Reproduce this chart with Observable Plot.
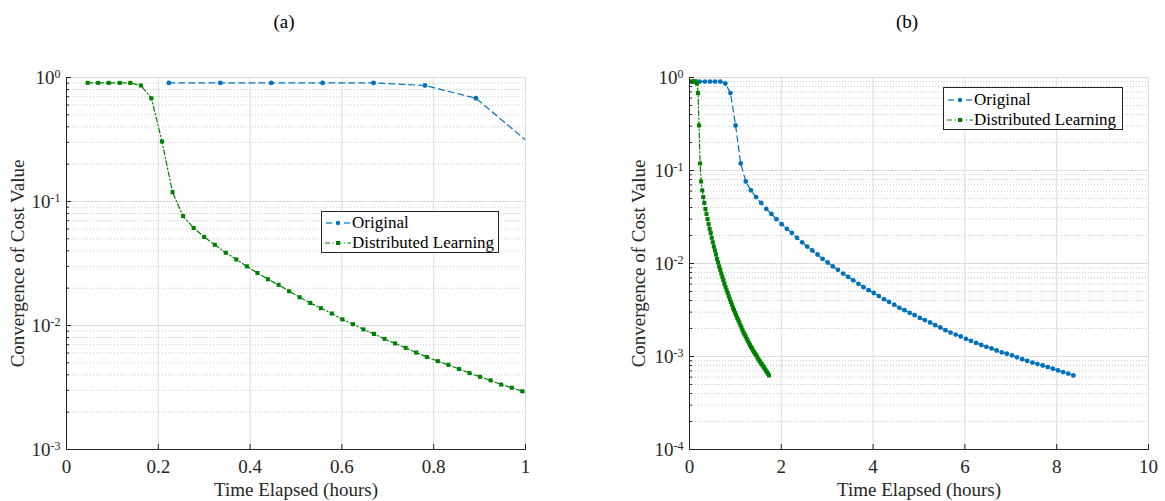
<!DOCTYPE html>
<html><head><meta charset="utf-8">
<script src="https://cdn.jsdelivr.net/npm/d3@7"></script>
<script src="https://cdn.jsdelivr.net/npm/@observablehq/plot@0.6"></script>
<style>
body{margin:0;background:#fff;}
#wrap{position:relative;width:1165px;height:501px;overflow:hidden;font-family:"Liberation Serif","Times New Roman",serif;}
.panel{position:absolute;top:0;}
.legend{position:absolute;background:#fff;border:1px solid #262626;box-sizing:border-box;font-size:17px;color:#000;padding-left:3px;}
.legend .row{display:flex;align-items:center;height:20px;white-space:nowrap;}
.legend svg{flex:none;margin-right:1px;}
</style></head><body><div id="wrap"></div>
<script>
// ---- data ----
// cost value per logged iteration (both methods follow the same cost trajectory)
const costValues = [0.905,0.905,0.905,0.905,0.905,0.862,0.68,0.305,0.119,0.0762,0.0612,0.0518,0.0448,0.0386,0.0341,0.0300,0.0265,0.0236,0.0213,0.0189,0.0169,0.0152,0.0138,0.0125,0.0112,0.01025,0.0093,0.00855,0.0078,0.00717,0.0066,0.00605,0.00557,0.00516,0.00482,0.00446,0.00413,0.00386,0.00361,0.00334,0.00315,0.00295,0.00278,0.0026,0.00246,0.00232,0.00217,0.00205,0.00192,0.00181,0.00172,0.00164,0.00155,0.00147,0.0014,0.00133,0.00127,0.00122,0.00116,0.00111,0.00107,0.00103,0.00098,0.000935,0.000897,0.000861,0.00083,0.0008,0.00077,0.000738,0.000708,0.00068,0.000655,0.000625];
// elapsed time (hours) at each logged point
const timeOriginal = [0.223,0.335,0.446,0.558,0.669,0.781,0.892,1.004,1.115,1.227,1.338,1.450,1.561,1.673,1.784,1.896,2.007,2.119,2.230,2.342,2.453,2.565,2.676,2.788,2.899,3.011,3.122,3.234,3.345,3.457,3.568,3.680,3.791,3.903,4.014,4.126,4.237,4.349,4.460,4.572,4.683,4.795,4.906,5.018,5.129,5.241,5.352,5.464,5.575,5.687,5.798,5.910,6.021,6.133,6.244,6.356,6.467,6.579,6.690,6.802,6.913,7.025,7.136,7.248,7.359,7.471,7.582,7.694,7.805,7.917,8.028,8.140,8.251,8.363];
const timeDistributed = [0.046,0.069,0.092,0.116,0.139,0.162,0.185,0.208,0.231,0.254,0.277,0.300,0.323,0.347,0.370,0.393,0.416,0.439,0.462,0.485,0.508,0.531,0.554,0.578,0.601,0.624,0.647,0.670,0.693,0.716,0.739,0.762,0.785,0.809,0.832,0.855,0.878,0.901,0.924,0.947,0.970,0.993,1.016,1.040,1.063,1.086,1.109,1.132,1.155,1.178,1.201,1.224,1.247,1.271,1.294,1.317,1.340,1.363,1.386,1.409,1.432,1.455,1.478,1.502,1.525,1.548,1.571,1.594,1.617,1.640,1.663,1.686,1.709,1.733];
const seriesNames = ["Original", "Distributed Learning"];
const panelTitles = ["(a)", "(b)"];
const xLabel = "Time Elapsed (hours)";
const yLabel = "Convergence of Cost Value";
const xTicksA = [0, 0.2, 0.4, 0.6, 0.8, 1];
const xTickLabelsA = ["0", "0.2", "0.4", "0.6", "0.8", "1"];
const xTicksB = [0, 2, 4, 6, 8, 10];
const xTickLabelsB = ["0", "2", "4", "6", "8", "10"];
const yTicksA = [1e-3, 1e-2, 1e-1, 1];
const yTickLabelsA = ["10^-3", "10^-2", "10^-1", "10^0"];
const yTicksB = [1e-4, 1e-3, 1e-2, 1e-1, 1];
const yTickLabelsB = ["10^-4", "10^-3", "10^-2", "10^-1", "10^0"];

// ---- build ----
const original = timeOriginal.map((t, i) => ({t, v: costValues[i]}));
const distributed = timeDistributed.map((t, i) => ({t, v: costValues[i]}));
const BLUE = "#0072BD", GREEN = "#008000", AX = "#262626";
const NS = "http://www.w3.org/2000/svg";

function makePanel(cfg) {
  const minor = d3.scaleLog().domain(cfg.yDomain).ticks()
    .filter(v => !cfg.yTicks.some(t => Math.abs(Math.log10(v) - Math.log10(t)) < 1e-6));
  const xLab = new Map(cfg.xTicks.map((t, i) => [t, cfg.xTickLabels[i]]));
  const yLab = new Map(cfg.yTicks.map((t, i) => [t, cfg.yTickLabels[i]]));
  const svg = Plot.plot({
    width: cfg.width, height: 501,
    marginLeft: cfg.ml, marginRight: cfg.mr, marginTop: 77, marginBottom: 52,
    style: {fontFamily: '"Liberation Serif","Times New Roman",serif', fontSize: "19px", color: AX, background: "transparent"},
    x: {domain: cfg.xDomain},
    y: {type: "log", domain: cfg.yDomain},
    marks: [
      Plot.gridY({ticks: minor, stroke: "#c9c9c9", strokeOpacity: 1, strokeDasharray: "1,2"}),
      Plot.gridY({ticks: cfg.yTicks, stroke: "#dcdcdc", strokeOpacity: 1}),
      Plot.gridX({ticks: cfg.xTicks, stroke: "#dcdcdc", strokeOpacity: 1}),
      Plot.line(original, {x: "t", y: "v", stroke: BLUE, strokeWidth: 1.2, strokeDasharray: "6,4", clip: true}),
      Plot.dot(original, {x: "t", y: "v", r: 2.4, fill: BLUE, clip: true}),
      Plot.line(distributed, {x: "t", y: "v", stroke: GREEN, strokeWidth: 1.2, strokeDasharray: "5,2.5,1.2,2.5", clip: true}),
      Plot.dot(distributed, {x: "t", y: "v", r: 2.3, symbol: "square", fill: GREEN, clip: true}),
      Plot.frame({anchor: "left", stroke: AX}),
      Plot.frame({anchor: "bottom", stroke: AX}),
      Plot.axisX({ticks: cfg.xTicks, tickSize: -5, tickFormat: () => "", label: null}),
      Plot.axisX({ticks: cfg.xTicks, tickSize: 0, tickPadding: 10, tickFormat: d => xLab.get(d), label: null}),
      Plot.axisY({ticks: cfg.yTicks, tickSize: -5, tickFormat: () => "", label: null}),
      Plot.axisY({ticks: minor, tickSize: -3, tickFormat: () => "", label: null}),
      Plot.axisY({ticks: cfg.yTicks, tickSize: 0, tickPadding: 6, tickFormat: d => yLab.get(d), label: null}),
      Plot.text([cfg.title], {text: d => d, frameAnchor: "top", textAnchor: "middle", dy: -63, dx: -12, fontSize: 19, fill: "#000"}),
      Plot.text([xLabel], {text: d => d, frameAnchor: "bottom", textAnchor: "middle", dy: 46, fontSize: 19, fill: AX}),
      Plot.text([yLabel], {text: d => d, frameAnchor: "left", textAnchor: "middle", rotate: -90, dx: cfg.ylabDx, fontSize: 19, fill: AX})
    ]
  });
  // superscript exponents on the y tick labels
  svg.querySelectorAll('g[aria-label="y-axis tick label"] text').forEach(t => {
    const s = t.textContent;
    if (!s.includes("^")) return;
    const [base, exp] = s.split("^");
    t.textContent = "";
    const a = document.createElementNS(NS, "tspan"); a.textContent = base;
    const b = document.createElementNS(NS, "tspan"); b.textContent = exp;
    b.setAttribute("dy", "-0.5em"); b.setAttribute("font-size", "12px");
    t.append(a, b);
  });
  svg.classList.add("panel");
  svg.style.left = cfg.left + "px";
  return svg;
}

function sample(kind) {
  const s = document.createElementNS(NS, "svg");
  s.setAttribute("width", 26); s.setAttribute("height", 20);
  if (kind === 0) {
    s.innerHTML = `<line x1="1" x2="7" y1="10" y2="10" stroke="${BLUE}" stroke-width="1.2"/><line x1="19" x2="25" y1="10" y2="10" stroke="${BLUE}" stroke-width="1.2"/><circle cx="13" cy="10" r="2.2" fill="${BLUE}"/>`;
  } else {
    s.innerHTML = `<line x1="0" x2="26" y1="10" y2="10" stroke="${GREEN}" stroke-width="1.2" stroke-dasharray="5,2.5,1.2,2.5"/><rect x="11" y="8" width="4" height="4" fill="${GREEN}"/>`;
  }
  return s;
}
function legend(left, top, w, h, padTop) {
  const d = document.createElement("div");
  d.className = "legend";
  Object.assign(d.style, {left: left + "px", top: top + "px", width: w + "px", height: h + "px", paddingTop: padTop + "px"});
  seriesNames.forEach((n, i) => {
    const r = document.createElement("div"); r.className = "row";
    r.append(sample(i));
    const sp = document.createElement("span"); sp.textContent = n; r.append(sp);
    d.append(r);
  });
  return d;
}

const wrap = document.getElementById("wrap");
wrap.append(makePanel({left: 0, width: 582, ml: 66, mr: 57, xDomain: [0, 1], yDomain: [1e-3, 1],
  xTicks: xTicksA, xTickLabels: xTickLabelsA, yTicks: yTicksA, yTickLabels: yTickLabelsA, title: panelTitles[0], ylabDx: -49}));
wrap.append(makePanel({left: 582, width: 583, ml: 107, mr: 17, xDomain: [0, 10], yDomain: [1e-4, 1],
  xTicks: xTicksB, xTickLabels: xTickLabelsB, yTicks: yTicksB, yTickLabels: yTickLabelsB, title: panelTitles[1], ylabDx: -51}));
wrap.append(legend(321, 211, 178, 42, 1));
wrap.append(legend(943, 87, 180, 43, 2));
</script></body></html>
